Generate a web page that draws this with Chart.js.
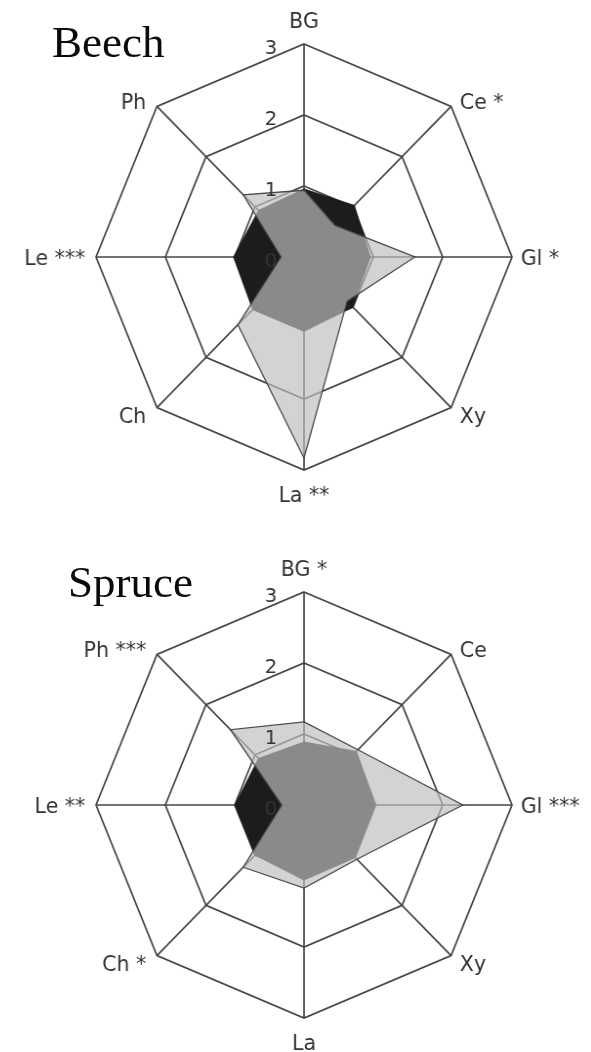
<!DOCTYPE html>
<html><head><meta charset="utf-8">
<script src="https://cdn.jsdelivr.net/npm/chart.js@4.4.1/dist/chart.umd.min.js"></script>
<style>
html,body{margin:0;padding:0;background:#fff;}
body{width:591px;height:1052px;position:relative;overflow:hidden;}
.panel{position:absolute;left:0;width:591px;height:526px;}
.wrap{position:absolute;left:0;top:0;width:591px;height:526px;transform:scaleX(0.9765);transform-origin:304px 0;}
.title{position:absolute;font-family:"Liberation Serif",serif;font-size:45px;line-height:45px;color:#0a0a0a;white-space:nowrap;}
</style></head>
<body>
<div class="panel" style="top:0"><div class="wrap"><canvas id="beech" width="591" height="526"></canvas></div><div class="title" style="left:52px;top:20px">Beech</div></div>
<div class="panel" style="top:526px"><div class="wrap"><canvas id="spruce" width="591" height="526"></canvas></div><div class="title" style="left:68px;top:34px">Spruce</div></div>
<script>
// Axis categories (clockwise from top)
const beechCategories  = ['BG', 'Ce *', 'Gl *', 'Xy', 'La **', 'Ch', 'Le ***', 'Ph'];
const spruceCategories = ['BG *', 'Ce', 'Gl ***', 'Xy', 'La', 'Ch *', 'Le **', 'Ph ***'];
const tickValues = [0, 1, 2, 3];

// Beech
const beechControl   = [0.96, 1.03, 0.96, 1.00, 1.05, 1.05, 1.02, 0.93];
const beechTreatment = [0.94, 0.63, 1.60, 0.88, 2.83, 1.35, 0.33, 1.24];
// Spruce
const spruceControl   = [0.89, 1.07, 1.04, 1.05, 1.06, 1.00, 1.00, 0.93];
const spruceTreatment = [1.17, 1.10, 2.29, 1.08, 1.17, 1.24, 0.32, 1.50];

const labelPlugin = {
  id: 'customLabels',
  afterDatasetsDraw(chart) {
    const s = chart.scales.r, ctx = chart.ctx;
    ctx.save();
    ctx.font = '20px "DejaVu Sans"';
    ctx.fillStyle = '#333';
    ctx.textBaseline = 'alphabetic';
    ctx.textAlign = 'center';
    tickValues.forEach(v => {
      const d = s.getDistanceFromCenterForValue(v);
      ctx.fillText(String(v), s.xCenter - 34, s.yCenter - d + 9.5);
    });
    ctx.font = '21px "DejaVu Sans"';
    ctx.fillStyle = '#333';
    chart.data.labels.forEach((t, i) => {
      const p = s.getPointPosition(i, s.drawingArea);
      const a = s.getIndexAngle(i);
      const sn = Math.sin(a), cs = Math.cos(a);
      let align = 'center', dx = 0;
      if (sn > 0.1) { align = 'left'; dx = 9; }
      else if (sn < -0.1) { align = 'right'; dx = -11; }
      let dy;
      if (cs > 0.9) dy = -16;
      else if (cs > 0.5) dy = 3;
      else if (cs > -0.5) dy = 8;
      else if (cs > -0.9) dy = 15;
      else dy = 32;
      ctx.textAlign = align;
      ctx.fillText(t, p.x + dx, p.y + dy);
    });
    ctx.restore();
  }
};

function makeChart(id, categories, control, treatment, pad) {
  return new Chart(document.getElementById(id), {
    type: 'radar',
    data: {
      labels: categories,
      datasets: [
        { label: 'treatment', data: treatment, order: 1, fill: true,
          backgroundColor: 'rgba(190,190,190,0.68)', borderColor: '#4a4a4a', borderWidth: 1.3,
          pointRadius: 0, tension: 0 },
        { label: 'control', data: control, order: 2, fill: true,
          backgroundColor: '#1c1c1c', borderColor: '#1c1c1c', borderWidth: 0.5,
          pointRadius: 0, tension: 0 }
      ]
    },
    options: {
      responsive: false,
      maintainAspectRatio: false,
      animation: false,
      layout: { padding: pad },
      plugins: { legend: { display: false }, tooltip: { enabled: false }, title: { display: false } },
      scales: {
        r: {
          min: 0, max: 3,
          ticks: { display: false, stepSize: 1 },
          pointLabels: { display: false },
          grid: { color: '#444', lineWidth: 1.7 },
          angleLines: { color: '#444', lineWidth: 1.7 }
        }
      }
    },
    plugins: [labelPlugin]
  });
}

makeChart('beech', beechCategories, beechControl, beechTreatment, { left: 91, right: 74, top: 44, bottom: 56 });
makeChart('spruce', spruceCategories, spruceControl, spruceTreatment, { left: 91, right: 74, top: 66, bottom: 34 });
</script>
</body></html>
